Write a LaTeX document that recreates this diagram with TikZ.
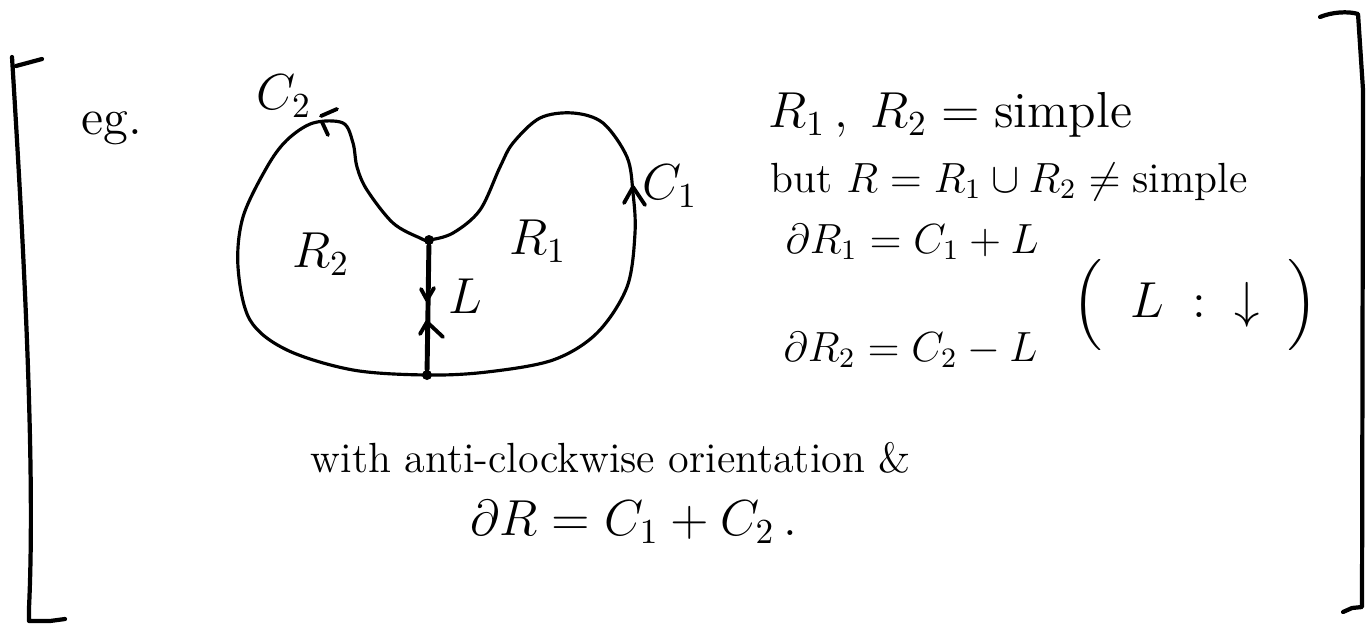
\documentclass[tikz,border=0pt]{standalone}
\usepackage{amsmath}
\usepackage{amssymb}
\usetikzlibrary{positioning}

\begin{document}
\begin{tikzpicture}[
  x=1cm, y=-1cm,
  pen/.style={draw, line width=0.9pt, line cap=round, line join=round},
  bracket/.style={draw, line width=1.2pt, line cap=round, line join=round},
  tick/.style={draw, line width=1.1pt, line cap=round, line join=round},
  dot/.style={circle, fill, inner sep=0pt, minimum size=0.1cm},
  txt/.style={font=\Large, inner sep=0pt},
  small/.style={font=\large, inner sep=0pt}
]

\useasboundingbox (0,0) rectangle (13.66,6.26);

% Brackets
\draw[bracket] (0.42,0.59) -- (0.16,0.66);
\draw[bracket] (0.12,0.57) .. controls (0.22,2.2) and (0.36,4.6) .. (0.29,6.08) -- (0.29,6.21) -- (0.50,6.21) -- (0.65,6.19);
\draw[bracket] (13.20,0.17) .. controls (13.32,0.12) and (13.48,0.11) .. (13.58,0.14) -- (13.63,0.90) -- (13.62,6.07) -- (13.52,6.08) -- (13.43,6.12);

% Region
\node[dot] (top) at (4.29,2.40) {};
\node[dot] (bot) at (4.27,3.75) {};

\draw[pen] plot[smooth cycle, tension=0.55] coordinates {
  (top) (4.53,2.33) (4.80,2.10) (5.00,1.67) (5.13,1.43) (5.40,1.18)
  (5.73,1.13) (6.03,1.23) (6.27,1.57) (6.33,1.93) (6.35,2.33) (6.27,2.87)
  (5.97,3.33) (5.53,3.60) (4.87,3.72) (bot) (3.53,3.70) (2.87,3.50)
  (2.50,3.20) (2.38,2.67) (2.43,2.17) (2.67,1.67) (2.87,1.40) (3.13,1.23)
  (3.43,1.23) (3.53,1.43) (3.57,1.67) (3.67,1.90) (3.93,2.23) (4.20,2.38)};

\draw[pen, line width=1.4pt] (top) -- (bot);

% Arrow marks
\draw[tick] (3.37,1.09) -- (3.21,1.16);
\draw[tick] (3.22,1.22) -- (3.28,1.35);
\draw[tick] (6.24,2.03) -- (6.33,1.87) -- (6.45,2.05);
\draw[tick] (4.21,2.89) -- (4.27,3.00) -- (4.34,2.88);
\draw[tick] (4.20,3.34) -- (4.27,3.22) -- (4.43,3.37);

% Labels
\node[txt] (eg) at (1.12,1.28) {eg.};
\node[txt] (c2) at (2.84,0.96) {$C_2$};
\node[txt] (c1) at (6.70,1.86) {$C_1$};
\node[txt] (r2) at (3.21,2.54) {$R_2$};
\node[txt] (r1) at (5.38,2.41) {$R_1$};
\node[txt] (l) at (4.65,2.96) {$L$};

% Statements
\node[txt, anchor=west] (simple) at (7.68,1.15) {$R_1\,,\; R_2 = \text{simple}$};
\node[small, anchor=west] (union) at (7.70,1.82) {but $R = R_1 \cup R_2 \neq \text{simple}$};
\node[small, anchor=west] (bd1) at (7.85,2.42) {$\partial R_1 = C_1 + L$};
\node[small, anchor=west] (bd2) at (7.83,3.50) {$\partial R_2 = C_2 - L$};
\node[txt] (orient) at (11.95,3.05) {$\Bigl(\;\; L \;:\; {\downarrow} \;\;\Bigr)$};
\node[small, anchor=west] (anti) at (3.10,4.58) {with anti-clockwise orientation \&};
\node[txt, anchor=west] (bd) at (4.70,5.22) {$\partial R = C_1 + C_2\,.$};

\end{tikzpicture}
\end{document}
